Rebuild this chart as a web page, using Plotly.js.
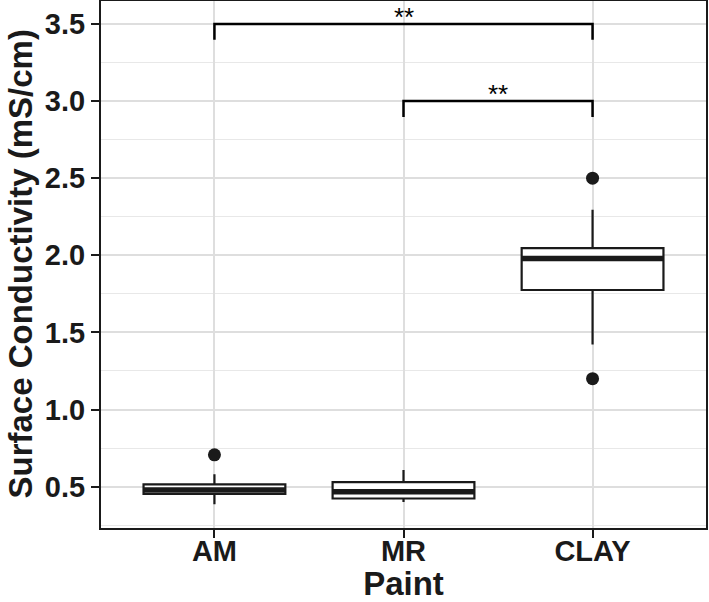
<!DOCTYPE html>
<html>
<head>
<meta charset="utf-8">
<script src="https://cdn.plot.ly/plotly-3.0.1.min.js"></script>
<style>html,body{margin:0;padding:0;background:#fff}#chart{width:709px;height:602px}</style>
</head>
<body>
<div id="chart"></div>
<script>
// Categories and summary statistics
var categories = ["AM", "MR", "CLAY"];
var q1Values = [0.452, 0.423, 1.775];
var medianValues = [0.478, 0.467, 1.980];
var q3Values = [0.515, 0.529, 2.046];
var lowerWhisker = [0.386, 0.400, 1.421];
var upperWhisker = [0.580, 0.607, 2.296];
var outlierCategory = ["AM", "CLAY", "CLAY"];
var outlierValues = [0.706, 2.500, 1.200];
// Significance brackets
var bracketFrom = ["AM", "MR"];
var bracketTo = ["CLAY", "CLAY"];
var bracketHeight = [3.5, 3.0];
var bracketTip = [0.103, 0.103];
var bracketLabel = ["**", "**"];
var yTicks = [0.5, 1.0, 1.5, 2.0, 2.5, 3.0, 3.5];
var xTitle = "Paint";
var yTitle = "Surface Conductivity (mS/cm)";

var BOXW = 0.75;
var FONT = "Liberation Sans, Arial, sans-serif";
var idx = function (c) { return categories.indexOf(c); };
var traces = [];

categories.forEach(function (c, i) {
  traces.push({
    type: "box", x: [i], q1: [q1Values[i]], median: [medianValues[i]], q3: [q3Values[i]],
    lowerfence: [lowerWhisker[i]], upperfence: [upperWhisker[i]],
    boxpoints: false, width: BOXW, fillcolor: "#ffffff",
    line: { color: "#1a1a1a", width: 2.2 }, whiskerwidth: 0,
    showlegend: false, hoverinfo: "skip"
  });
});
categories.forEach(function (c, i) {
  traces.push({
    type: "scatter", mode: "lines", x: [i - BOXW / 2, i + BOXW / 2], y: [medianValues[i], medianValues[i]],
    line: { color: "#1a1a1a", width: 5.5 }, showlegend: false, hoverinfo: "skip"
  });
});
traces.push({
  type: "scatter", mode: "markers", x: outlierCategory.map(idx), y: outlierValues,
  marker: { color: "#1a1a1a", size: 13 }, showlegend: false, hoverinfo: "skip"
});
var titleFont = { family: FONT, size: 33, color: "#1a1a1a", weight: "bold" };
var annotations = [];
bracketFrom.forEach(function (f, k) {
  var a = idx(f), b = idx(bracketTo[k]), h = bracketHeight[k], t = bracketTip[k];
  traces.push({
    type: "scatter", mode: "lines", x: [a, a, b, b], y: [h - t, h, h, h - t],
    line: { color: "#000", width: 2.5 }, showlegend: false, hoverinfo: "skip"
  });
  annotations.push({
    x: (a + b) / 2, y: h, xref: "x", yref: "y", text: bracketLabel[k], showarrow: false,
    yanchor: "bottom", yshift: -10, font: { family: FONT, size: 26, color: "#000" }
  });
});
annotations.push({
  x: 0, y: 0.5, xref: "paper", yref: "paper", xanchor: "center", yanchor: "middle",
  xshift: -81, textangle: -90, text: yTitle, showarrow: false, font: titleFont
});

var tickFont = { family: FONT, size: 29, color: "#1a1a1a", weight: "bold" };
var layout = {
  width: 709, height: 602,
  margin: { l: 101, r: 3, t: 1, b: 74, pad: 0 },
  paper_bgcolor: "#fff", plot_bgcolor: "#fff",
  xaxis: {
    range: [-0.6, 2.6], tickvals: categories.map(function (c, i) { return i; }), ticktext: categories,
    showgrid: true, gridcolor: "#dedede", gridwidth: 2, zeroline: false,
    showline: true, mirror: true, linecolor: "#1a1a1a", linewidth: 2,
    ticks: "outside", ticklen: 8, tickwidth: 2, tickcolor: "#1a1a1a",
    tickfont: tickFont, ticklabelstandoff: -12,
    title: { text: xTitle, font: titleFont, standoff: 12 }
  },
  yaxis: {
    range: [0.2316, 3.649], tickvals: yTicks, ticktext: yTicks.map(function (v) { return v.toFixed(1); }),
    showgrid: true, gridcolor: "#dedede", gridwidth: 2, zeroline: false,
    minor: { dtick: 0.25, tick0: 0, showgrid: true, gridcolor: "#e8e8e8", gridwidth: 1 },
    showline: true, mirror: true, linecolor: "#1a1a1a", linewidth: 2,
    ticks: "outside", ticklen: 8, tickwidth: 2, tickcolor: "#1a1a1a",
    tickfont: tickFont
  },
  annotations: annotations,
  showlegend: false
};
Plotly.newPlot("chart", traces, layout, { displayModeBar: false, staticPlot: true });
</script>
</body>
</html>
